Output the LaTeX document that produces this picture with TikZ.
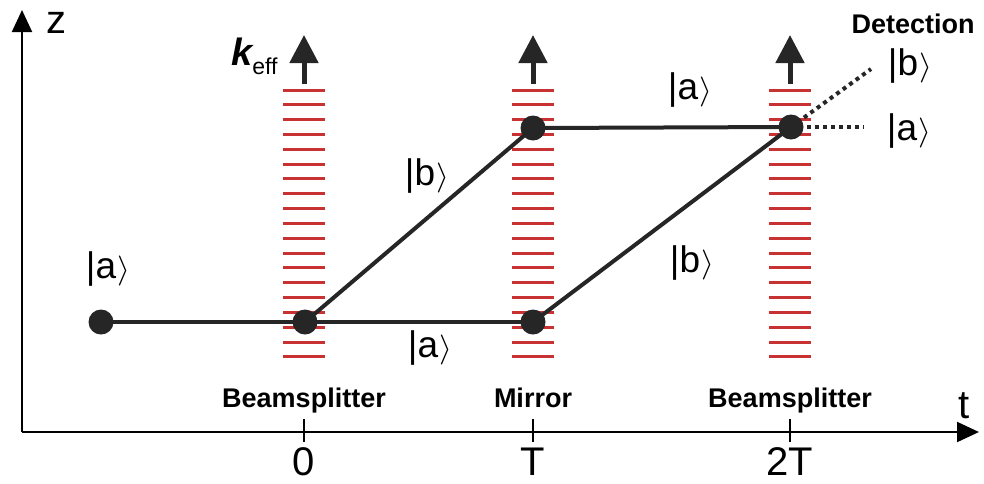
\documentclass[tikz,border=0pt]{standalone}
\usepackage{fontspec}
\setmainfont{Liberation Sans}
\usetikzlibrary{arrows.meta}
\definecolor{beamred}{RGB}{200,50,50}
\newcommand\myket[1]{|#1\kern1pt\resizebox*{13pt}{30pt}{$\rangle$}}
\begin{document}
\begin{tikzpicture}[x=1pt,y=-1pt,
  ket/.style={font=\fontsize{37}{37}\selectfont, inner sep=0},
  lbl/.style={font=\bfseries\fontsize{27}{27}\selectfont, inner sep=0, anchor=base},
  axlbl/.style={font=\fontsize{40}{40}\selectfont, inner sep=0, anchor=base},
  axisline/.style={line width=2pt, -{Triangle[width=20pt,length=22pt]}},
  pathline/.style={line width=4pt, black!85},
  dotpt/.style={circle, fill=black!85, minimum size=25pt, inner sep=0},
  beam/.style={beamred, line width=3pt},
  kvec/.style={line width=5pt, black!85, -{Triangle[width=28pt,length=28pt]}},
  detect/.style={line width=4pt, black!85, dash pattern=on 4pt off 4pt},
  tick/.style={line width=2pt}]
\useasboundingbox (0,0) rectangle (984,483);
% axes
\coordinate (o) at (22,432);
\coordinate (ztip) at (22,10);
\coordinate (ttip) at (979,432);
\draw[axisline] (o) -- (ztip);
\draw[axisline] (o) -- (ttip);
\node[axlbl] (zl) at (56,33) {z};
\node[axlbl] (tl) at (964,418) {t};
% ticks
\foreach \x/\t/\n in {304/0/ta,533/T/tb,790/2T/tc}{
  \draw[tick] (\x,419) -- (\x,442);
  \node[axlbl] (\n) at (\x,475) {\t};
}
% beams
\foreach \x in {304,533,790}{
  \foreach \i in {0,...,18}{
    \draw[beam] (\x-21,90+\i*14.83) -- (\x+21,90+\i*14.83);
  }
  \draw[kvec] (\x,84) -- (\x,35);
}
\node[anchor=base west, inner sep=0] (keff) at (231,65)
  {{\fontsize{38}{38}\selectfont\bfseries\itshape k}{\fontsize{23}{23}\selectfont\raisebox{-9pt}{eff}}};
% labels under beams
\node[lbl] (bs1) at (304,407) {Beamsplitter};
\node[lbl] (mir) at (533,407) {Mirror};
\node[lbl] (bs2) at (790,407) {Beamsplitter};
\node[lbl] (det) at (913,33) {Detection};
% trajectory points
\coordinate (s) at (101,322);
\coordinate (b1) at (305,322);
\coordinate (m1) at (533,322);
\coordinate (m2) at (533,128);
\coordinate (b2) at (791,127);
\coordinate (db) at (871,69);
\coordinate (da) at (864,127);
\draw[pathline] (s) -- (b1) -- (m1);
\draw[pathline] (b1) -- (m2) -- (b2);
\draw[pathline] (m1) -- (b2);
\draw[detect] (b2) -- (db);
\draw[detect] (b2) -- (da);
\foreach \p in {s,b1,m1,m2,b2}{\node[dotpt] (d\p) at (\p) {};}
% kets
\node[ket] (k1) at (108,269) {\myket{a}};
\node[ket] (k2) at (427,176) {\myket{b}};
\node[ket] (k3) at (690,90) {\myket{a}};
\node[ket] (k4) at (692,263) {\myket{b}};
\node[ket] (k5) at (430,348) {\myket{a}};
\node[ket] (k6) at (910,66) {\myket{b}};
\node[ket] (k7) at (909,131) {\myket{a}};
\end{tikzpicture}
\end{document}
